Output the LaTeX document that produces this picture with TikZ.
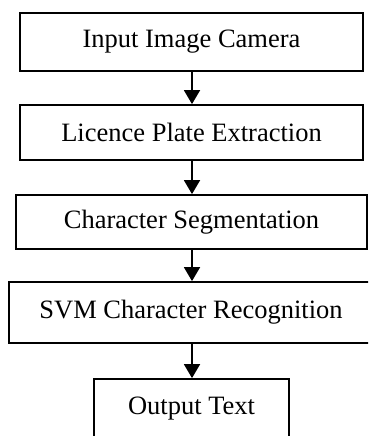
\documentclass[tikz,border=0pt]{standalone}
\usepackage{fontspec}
\setmainfont{Liberation Serif}
\usetikzlibrary{arrows.meta}
\begin{document}
\begin{tikzpicture}[x=1pt,y=-1pt,
  stepbox/.style={draw=black,line width=1.8pt,inner sep=0pt,font=\fontsize{26.5}{30}\selectfont,anchor=center},
  flow/.style={line width=1.8pt,-{Triangle[width=16pt,length=14pt]}}]
\useasboundingbox (0,0) rectangle (368,436);
\clip (0,0) rectangle (368,436);
\node[stepbox,minimum width=343pt,minimum height=58pt] (b1) at (191.5,42) {Input Image Camera};
\node[stepbox,minimum width=343pt,minimum height=55pt] (b2) at (191.5,132.5) {Licence Plate Extraction};
\node[stepbox,minimum width=351pt,minimum height=54pt] (b3) at (191.5,222) {Character Segmentation};
\node[stepbox,minimum width=364pt,minimum height=61pt] (b4) at (191,312.5) {SVM Character Recognition};
\node[stepbox,minimum width=195pt,minimum height=60pt] (b5) at (191.5,409) {Output Text};
\draw[flow] (b1.south -| 192,0) -- (b2.north -| 192,0);
\draw[flow] (b2.south -| 192,0) -- (b3.north -| 192,0);
\draw[flow] (b3.south -| 192,0) -- (b4.north -| 192,0);
\draw[flow] (b4.south -| 192,0) -- (b5.north -| 192,0);
\end{tikzpicture}
\end{document}
